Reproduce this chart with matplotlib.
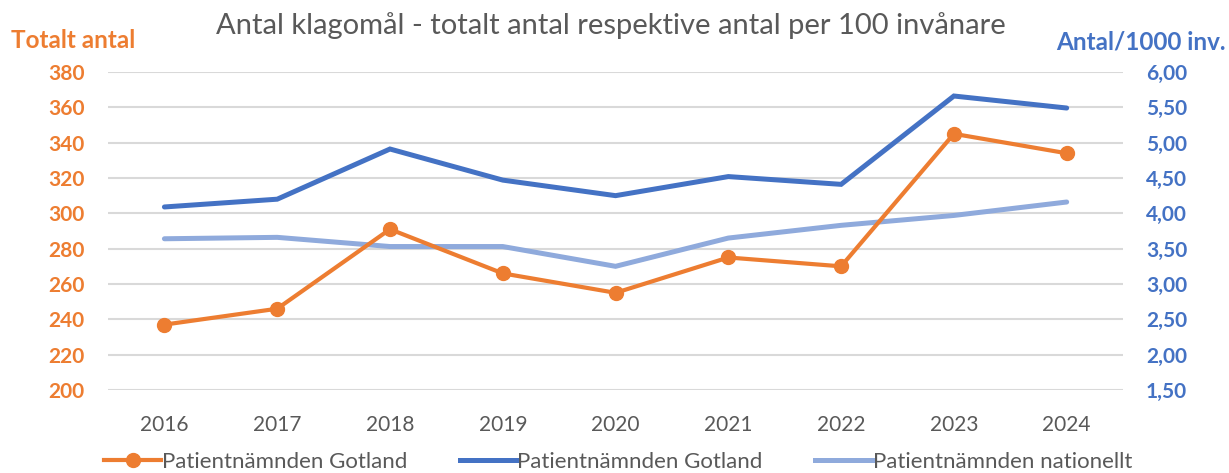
import numpy as np
import matplotlib.pyplot as plt
from matplotlib.lines import Line2D

# data
years = ['2016', '2017', '2018', '2019', '2020', '2021', '2022', '2023', '2024']
totalt_gotland = [237, 246, 291, 266, 255, 275, 270, 345, 334]
per1000_gotland = [4.09, 4.20, 4.91, 4.47, 4.25, 4.52, 4.41, 5.66, 5.49]
per1000_nationellt = [3.64, 3.66, 3.53, 3.53, 3.25, 3.65, 3.83, 3.97, 4.16]
left_ticks = [200, 220, 240, 260, 280, 300, 320, 340, 360, 380]
right_ticks = [1.5, 2.0, 2.5, 3.0, 3.5, 4.0, 4.5, 5.0, 5.5, 6.0]
legend_labels = ['Patientnämnden Gotland', 'Patientnämnden Gotland', 'Patientnämnden nationellt']

orange = '#ED7D31'
blue = '#4472C4'
lightblue = '#8FAADC'
grey = '#595959'

plt.rcParams['font.family'] = ['Lato', 'DejaVu Sans']

fig = plt.figure(figsize=(12.29, 4.73), dpi=100)
ax1 = fig.add_axes([0.0879, 0.1755, 0.8259, 0.6723])
ax2 = ax1.twinx()
# right axis (blue lines + grid) behind, orange series on top
ax2.set_zorder(ax1.get_zorder() - 1)
ax1.patch.set_visible(False)

x = np.arange(len(years))

ax2.plot(x, per1000_gotland, color=blue, lw=3.6, solid_capstyle='round', solid_joinstyle='miter')
ax2.plot(x, per1000_nationellt, color=lightblue, lw=3.6, solid_capstyle='round', solid_joinstyle='miter')
ax1.plot(x, totalt_gotland, color=orange, lw=3.0, marker='o', markersize=10, solid_joinstyle='miter')

ax1.set_xlim(-0.5, len(years) - 0.5)
ax2.set_ylim(1.5, 6.0)
ax1.set_ylim(200, 380)

ax2.set_yticks(right_ticks)
ax2.set_yticklabels([f'{v:.2f}'.replace('.', ',') for v in right_ticks])
ax1.set_yticks(left_ticks)
ax1.set_yticklabels([str(v) for v in left_ticks])

ax1.set_xticks(x)
ax1.set_xticklabels(years, fontsize=15, color=grey)
ax1.tick_params(axis='x', length=0, pad=18)
ax2.tick_params(axis='y', length=0, pad=16.5, labelsize=15, labelcolor=blue)
ax1.tick_params(axis='y', length=0, pad=17, labelsize=15, labelcolor=orange)
for lab in ax2.get_yticklabels() + ax1.get_yticklabels():
    lab.set_fontweight('bold')

ax2.grid(axis='y', color='#D9D9D9', lw=1.5)
ax2.set_axisbelow(True)
for a in (ax1, ax2):
    for s in a.spines.values():
        s.set_visible(False)

fig.text(0.497, 0.947, 'Antal klagomål - totalt antal respektive antal per 100 invånare',
         ha='center', va='center', fontsize=21, color=grey)
fig.text(0.009, 0.914, 'Totalt antal', ha='left', va='center', fontsize=17.5,
         fontweight='bold', color=orange)
fig.text(0.997, 0.912, 'Antal/1000 inv.', ha='right', va='center', fontsize=17.5,
         fontweight='bold', color=blue)

handles = [
    Line2D([], [], color=orange, lw=3.0, marker='o', markersize=10),
    Line2D([], [], color=blue, lw=3.6),
    Line2D([], [], color=lightblue, lw=3.6),
]
fig.legend(handles, legend_labels, loc='center', bbox_to_anchor=(0.503, 0.024),
           ncol=3, frameon=False, fontsize=16, handlelength=2.55, handletextpad=0.05,
           columnspacing=2.35, labelcolor=grey)

fig.savefig('out.png', dpi=100)
